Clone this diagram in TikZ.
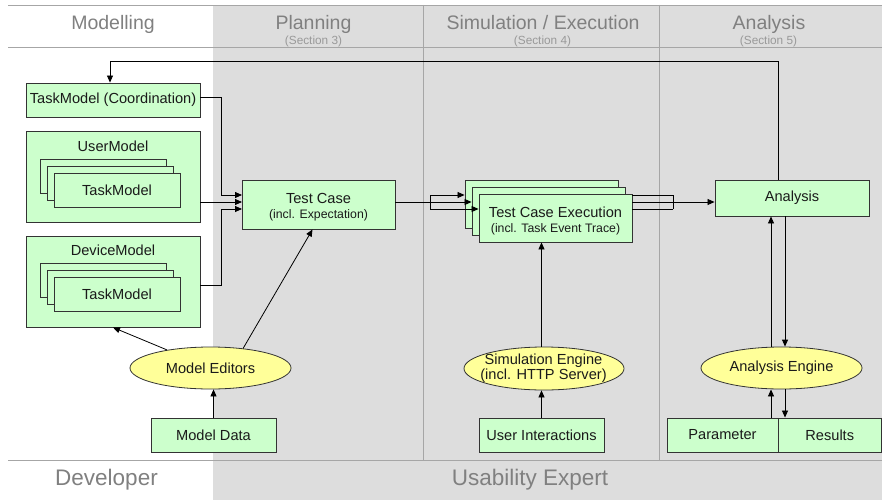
\documentclass[tikz,border=0pt]{standalone}
\usepackage{fontspec}
\setmainfont{Liberation Sans}
\usetikzlibrary{arrows.meta,shapes.geometric,calc}
\definecolor{boxgreen}{HTML}{CCFFCC}
\definecolor{engyellow}{HTML}{FFFF99}
\definecolor{lanegray}{HTML}{DDDDDD}
\definecolor{laneline}{HTML}{A6A6A6}
\definecolor{headtext}{HTML}{808080}
\definecolor{sectext}{HTML}{999999}
\definecolor{boxline}{HTML}{333333}
\definecolor{bodytext}{HTML}{1A1A1A}
\newcommand{\fsz}[1]{\fontsize{#1}{#1}\selectfont}

\begin{document}
\begin{tikzpicture}[x=1pt,y=-1pt,
  box/.style={draw=boxline, fill=boxgreen, line width=0.9pt, rectangle,
    inner sep=0pt, font=\fsz{14.6}, text=bodytext},
  engine/.style={draw=boxline, fill=engyellow, line width=0.8pt, ellipse,
    inner sep=0pt, minimum width=161pt, minimum height=42pt},
  conn/.style={line width=0.8pt, black},
  arr/.style={conn, -{Triangle[length=7pt,width=6pt]}},
  lane/.style={laneline, line width=0.9pt},
  head/.style={text=headtext, font=\fsz{19.5}, anchor=base, inner sep=0pt},
  sect/.style={text=sectext, font=\fsz{11.8}, anchor=base, inner sep=0pt},
  role/.style={text=headtext, font=\fsz{22.5}, anchor=base, inner sep=0pt},
  lbl/.style={font=\fsz{14.6}, text=bodytext, inner sep=0pt, anchor=base},
  sublbl/.style={font=\fsz{12.3}, text=bodytext, inner sep=0pt, anchor=base},
  engtext/.style={font=\fsz{14.6}, text=bodytext, inner sep=0pt},
]
\useasboundingbox (0,0) rectangle (882,500);

% swimlane background and separators
\fill[white] (0,0) rectangle (882,500);
\fill[lanegray] (213,5) rectangle (882,500);
\draw[lane] (8,5) -- (882,5);
\draw[lane] (8,47) -- (882,47);
\draw[lane] (8,460) -- (882,460);
\draw[lane] (423,5) -- (423,460);
\draw[lane] (659,5) -- (659,460);

% phase headers
\node[head] (h-mod) at (113,29.5) {Modelling};
\node[head] (h-plan) at (313.5,29.5) {Planning};
\node[sect] (s-plan) at (313.5,44.5) {(Section 3)};
\node[head] (h-sim) at (543,29.5) {Simulation / Execution};
\node[sect] (s-sim) at (542.5,44.5) {(Section 4)};
\node[head] (h-ana) at (769,29.5) {Analysis};
\node[sect] (s-ana) at (768.5,44.5) {(Section 5)};

% roles
\node[role] (r-dev) at (106.5,485) {Developer};
\node[role] (r-ux) at (530,485) {Usability Expert};

% modelling column
\node[box, minimum width=174pt, minimum height=34pt] (tmc) at (113,100) {TaskModel (Coordination)};

\node[box, minimum width=174pt, minimum height=91pt] (um) at (113,176.5) {};
\node[lbl] (um-title) at (113,151) {UserModel};
\node[box, minimum width=126pt, minimum height=34pt] (um-c) at (103,176) {};
\node[box, minimum width=126pt, minimum height=34pt] (um-b) at (110,183) {};
\node[box, minimum width=126pt, minimum height=34pt] (um-a) at (117,190) {TaskModel};

\node[box, minimum width=174pt, minimum height=91pt] (dm) at (113,281.5) {};
\node[lbl] (dm-title) at (113,255) {DeviceModel};
\node[box, minimum width=126pt, minimum height=34pt] (dm-c) at (103,280.5) {};
\node[box, minimum width=126pt, minimum height=34pt] (dm-b) at (110,287.5) {};
\node[box, minimum width=126pt, minimum height=34pt] (dm-a) at (117,294.5) {TaskModel};

\node[engine] (me) at (210.5,368) {};
\node[engtext] (me-text) at (me) {Model Editors};
\node[box, minimum width=125pt, minimum height=34pt] (md) at (213.5,435) {Model Data};

% planning column
\node[box, minimum width=153pt, minimum height=49pt] (tc) at (318.5,204.5) {};
\node[lbl] (tc-title) at (318.5,203) {Test Case};
\node[sublbl] (tc-sub) at (318.5,218) {(incl. Expectation)};

% simulation column
\node[box, minimum width=153pt, minimum height=48pt] (tce3) at (541.5,204) {};
\node[box, minimum width=153pt, minimum height=48pt] (tce2) at (548.5,211) {};
\node[box, minimum width=153pt, minimum height=48pt] (tce1) at (555.5,218) {};
\node[lbl] (tce-title) at (555.5,217.5) {Test Case Execution};
\node[sublbl] (tce-sub) at (555.5,232.5) {(incl. Task Event Trace)};

\node[engine, minimum width=160pt, minimum height=43pt] (se) at (544,368.5) {};
\node[engtext, align=center] (se-text) at (543.5,368.5)
  {\fontsize{14.6}{17}\selectfont Simulation Engine\\(incl. HTTP Server)};
\node[box, minimum width=125pt, minimum height=34pt] (ui) at (541.5,435) {User Interactions};

% analysis column
\node[box, minimum width=154pt, minimum height=36pt] (ana) at (792,198) {Analysis};
\node[engine] (ae) at (781.5,368) {};
\node[engtext] (ae-text) at (ae) {Analysis Engine};
\node[box, minimum width=111pt, minimum height=34pt] (par) at (722.5,435) {Parameter};
\node[box, minimum width=103.5pt, minimum height=34pt] (res) at (829.75,435) {Results};

% junction points
\coordinate (fb) at (110,61);
\coordinate (jx) at (221,0);
\coordinate (tcin1) at (242,195);
\coordinate (tcin2) at (242,202);
\coordinate (tcin3) at (242,209);
\coordinate (ja) at (430,195);
\coordinate (jb) at (430,202);
\coordinate (jc) at (430,209);
\coordinate (ka) at (673,195);
\coordinate (kb) at (673,202);
\coordinate (kc) at (673,209);
\coordinate (up) at (771,0);
\coordinate (dn) at (785,0);

% feedback from analysis to the coordination model
\draw[arr] ([xshift=-14pt]ana.north) |- (fb) -- (fb |- tmc.north);

% models into the test case
\draw[arr] ([yshift=3pt]tmc.east) -| (jx |- tcin1) -- (tcin1);
\draw[arr] (um.east |- tcin2) -- (tcin2);
\draw[arr] ([yshift=-3.5pt]dm.east) -| (jx |- tcin3) -- (tcin3);

% editors
\draw[arr] (md.north) -- (md.north |- me.south);
\draw[arr] (me) -- (dm.south);
\draw[arr] (me.31) -- ([xshift=-6pt]tc.south);

% test case into executions
\draw[conn] (tc.east |- jb) -- (jb);
\draw[conn] (ja) -- (jc);
\draw[arr] (ja) -- (ja -| tce3.west);
\draw[arr] (jb) -- (jb -| tce2.west);
\draw[arr] (jc) -- (jc -| tce1.west);

% executions into analysis
\draw[conn] (tce1.east |- ka) -- (ka);
\draw[conn] (tce1.east |- kb) -- (kb);
\draw[conn] (tce1.east |- kc) -- (kc);
\draw[conn] (ka) -- (kc);
\draw[arr] (kb) -- (kb -| ana.west);

% simulation engine
\draw[arr] (ui.north) -- (ui.north |- se.south);
\draw[arr] (ui.north |- se.north) -- (ui.north |- tce1.south);

% analysis engine
\draw[arr] (up |- ae.north) -- (up |- ana.south);
\draw[arr] (dn |- ana.south) -- (dn |- ae.north);
\draw[arr] (up |- par.north) -- (up |- ae.south);
\draw[arr] (dn |- ae.south) -- (dn |- res.north);
\end{tikzpicture}
\end{document}
